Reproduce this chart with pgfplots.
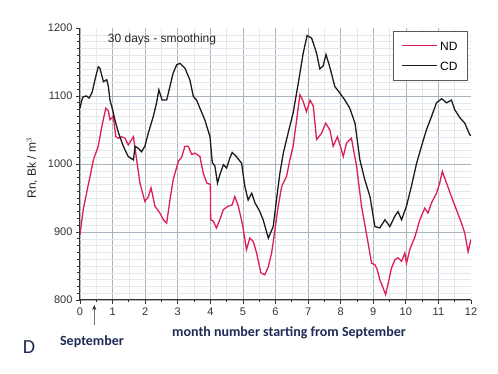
\documentclass[border=0pt]{standalone}
\usepackage{fontspec}
\setmainfont{Liberation Sans}
\newfontfamily\carlito{Carlito}
\usepackage{pgfplots}
\pgfplotsset{compat=1.18}
\usetikzlibrary{arrows.meta}

\definecolor{ndred}{RGB}{221,30,82}
\definecolor{cdblack}{RGB}{28,28,28}
\definecolor{navy}{RGB}{30,42,86}
\definecolor{majgrid}{RGB}{168,180,190}
\definecolor{mingrid}{RGB}{228,232,236}

\begin{document}
\begin{tikzpicture}[x=1pt,y=1pt]
\path[use as bounding box] (0,0) rectangle (498,374);
\begin{axis}[at={(80pt,74pt)},anchor=south west,
  scale only axis,width=391pt,height=272pt,
  xmin=0,xmax=12,ymin=800,ymax=1200,
  axis lines*=left,
  axis line style={line width=1pt,color=black!80},
  xtick={0,...,11},extra x ticks={12},extra x tick style={grid=none},
  ytick={800,900,1000,1100},extra y ticks={1200},extra y tick style={grid=none},
  minor xtick={0.5,1.5,...,11.5},
  minor ytick={810,820,...,1190},
  grid=both,
  major grid style={color=majgrid,line width=0.6pt},
  minor grid style={color=mingrid,line width=0.5pt},
  tick align=outside,
  major tick length=4pt,minor tick length=2.5pt,
  tick style={color=black!80,line width=0.8pt},
  ticklabel style={font=\fontsize{11}{13}\selectfont,color=black!80},
  /pgf/number format/assume math mode=true,
  /pgf/number format/1000 sep={},
]
% ND
\addplot[ndred,line width=1.3pt,sharp plot] coordinates {
(0,896)(0.05,915)(0.1,933)(0.2,957)(0.31,982)(0.41,1006)(0.5,1018)(0.56,1026)
(0.67,1055)(0.79,1082)(0.87,1078)(0.92,1065)(1.02,1070)(1.1,1040)(1.18,1038)
(1.28,1040)(1.38,1038)(1.48,1028)(1.56,1034)(1.64,1040)(1.74,1006)(1.84,972)
(1.99,945)(2.1,952)(2.18,965)(2.3,938)(2.45,928)(2.56,918)(2.66,913)(2.76,947)
(2.86,977)(3.02,1004)(3.12,1010)(3.22,1026)(3.32,1026)(3.43,1014)(3.53,1016)
(3.68,1011)(3.78,987)(3.89,972)(4.0,970)(4.01,918)(4.09,916)(4.19,906)(4.29,918)
(4.4,933)(4.55,938)(4.67,940)(4.75,952)(4.86,938)(5.0,908)(5.11,874)(5.21,891)
(5.32,886)(5.42,869)(5.55,840)(5.67,837)(5.78,849)(5.88,869)(5.98,902)(6.08,937)
(6.19,967)(6.34,982)(6.44,1006)(6.54,1026)(6.65,1065)(6.75,1102)(6.85,1092)
(6.95,1077)(7.06,1094)(7.16,1085)(7.26,1036)(7.41,1045)(7.54,1060)(7.67,1050)
(7.77,1026)(7.9,1040)(7.98,1028)(8.08,1011)(8.18,1031)(8.33,1038)(8.49,996)
(8.64,938)(8.79,898)(8.95,854)(9.05,852)(9.12,845)(9.2,830)(9.3,818)(9.38,808)
(9.46,825)(9.56,847)(9.66,859)(9.76,862)(9.87,857)(9.97,869)(10.02,854)
(10.12,874)(10.28,893)(10.43,918)(10.58,935)(10.68,928)(10.79,943)(10.94,957)
(11.04,972)(11.12,989)(11.25,972)(11.4,952)(11.55,933)(11.71,913)(11.81,898)
(11.91,871)(12.0,889)};
% CD
\addplot[cdblack,line width=1.3pt,sharp plot] coordinates {
(0,1082)(0.05,1093)(0.1,1099)(0.2,1100)(0.28,1097)(0.37,1105)(0.46,1124)
(0.56,1143)(0.61,1141)(0.72,1121)(0.82,1124)(0.87,1114)(0.92,1094)(1.0,1080)
(1.07,1065)(1.18,1046)(1.33,1026)(1.48,1011)(1.64,1006)(1.69,1026)(1.79,1023)
(1.89,1018)(1.99,1026)(2.1,1046)(2.25,1070)(2.35,1090)(2.42,1109)(2.52,1094)
(2.66,1094)(2.76,1114)(2.86,1134)(2.97,1146)(3.07,1148)(3.22,1141)(3.37,1124)
(3.48,1099)(3.58,1094)(3.68,1082)(3.83,1065)(3.99,1040)(4.06,1002)(4.14,997)
(4.22,972)(4.29,984)(4.4,999)(4.5,994)(4.6,1009)(4.67,1017)(4.8,1011)(4.96,1001)
(5.06,967)(5.16,947)(5.27,957)(5.37,943)(5.52,930)(5.62,918)(5.78,891)(5.93,908)
(6.03,947)(6.13,985)(6.24,1016)(6.39,1046)(6.54,1075)(6.7,1119)(6.85,1163)
(6.97,1189)(7.11,1185)(7.26,1163)(7.36,1140)(7.46,1144)(7.55,1161)(7.67,1142)
(7.82,1114)(7.98,1104)(8.13,1094)(8.28,1082)(8.44,1060)(8.59,1006)(8.74,977)
(8.9,952)(9.05,908)(9.2,906)(9.36,918)(9.51,908)(9.66,923)(9.76,930)(9.87,918)
(10.02,938)(10.17,967)(10.33,1001)(10.48,1026)(10.63,1050)(10.79,1070)
(10.94,1090)(11.1,1096)(11.25,1090)(11.4,1094)(11.5,1080)(11.66,1068)
(11.81,1060)(11.96,1043)(12.0,1042)};
\end{axis}
% legend box
\draw[black!65,line width=0.7pt,fill=white] (393,294) rectangle (467,343);
\draw[ndred,line width=1pt] (402,328) -- (437,328);
\draw[cdblack,line width=1pt] (402,308) -- (437,308);
\node[anchor=west,font=\fontsize{12}{14}\selectfont,inner sep=0pt] at (440,328) {ND};
\node[anchor=west,font=\fontsize{12}{14}\selectfont,inner sep=0pt] at (440,308) {CD};
% texts around the axis
\node[font=\fontsize{12}{14}\selectfont,color=black!85] at (162,335) {30 days - smoothing};
\node[rotate=90,font=\fontsize{12}{14}\selectfont,color=black!85] at (32,206) {Rn, Bk / m$^{3}$};
\node[font=\carlito\bfseries\fontsize{14}{16}\selectfont,color=navy] at (289,41) {month number starting from September};
\node[font=\carlito\bfseries\fontsize{14}{16}\selectfont,color=navy] at (92,32) {September};
\node[font=\carlito\fontsize{20}{22}\selectfont,color=navy] at (29,27) {D};
\draw[black!55,line width=0.8pt,-{Stealth[length=5pt,width=4pt,color=black!85]}] (94.3,49) -- (94.3,69);
\end{tikzpicture}
\end{document}
